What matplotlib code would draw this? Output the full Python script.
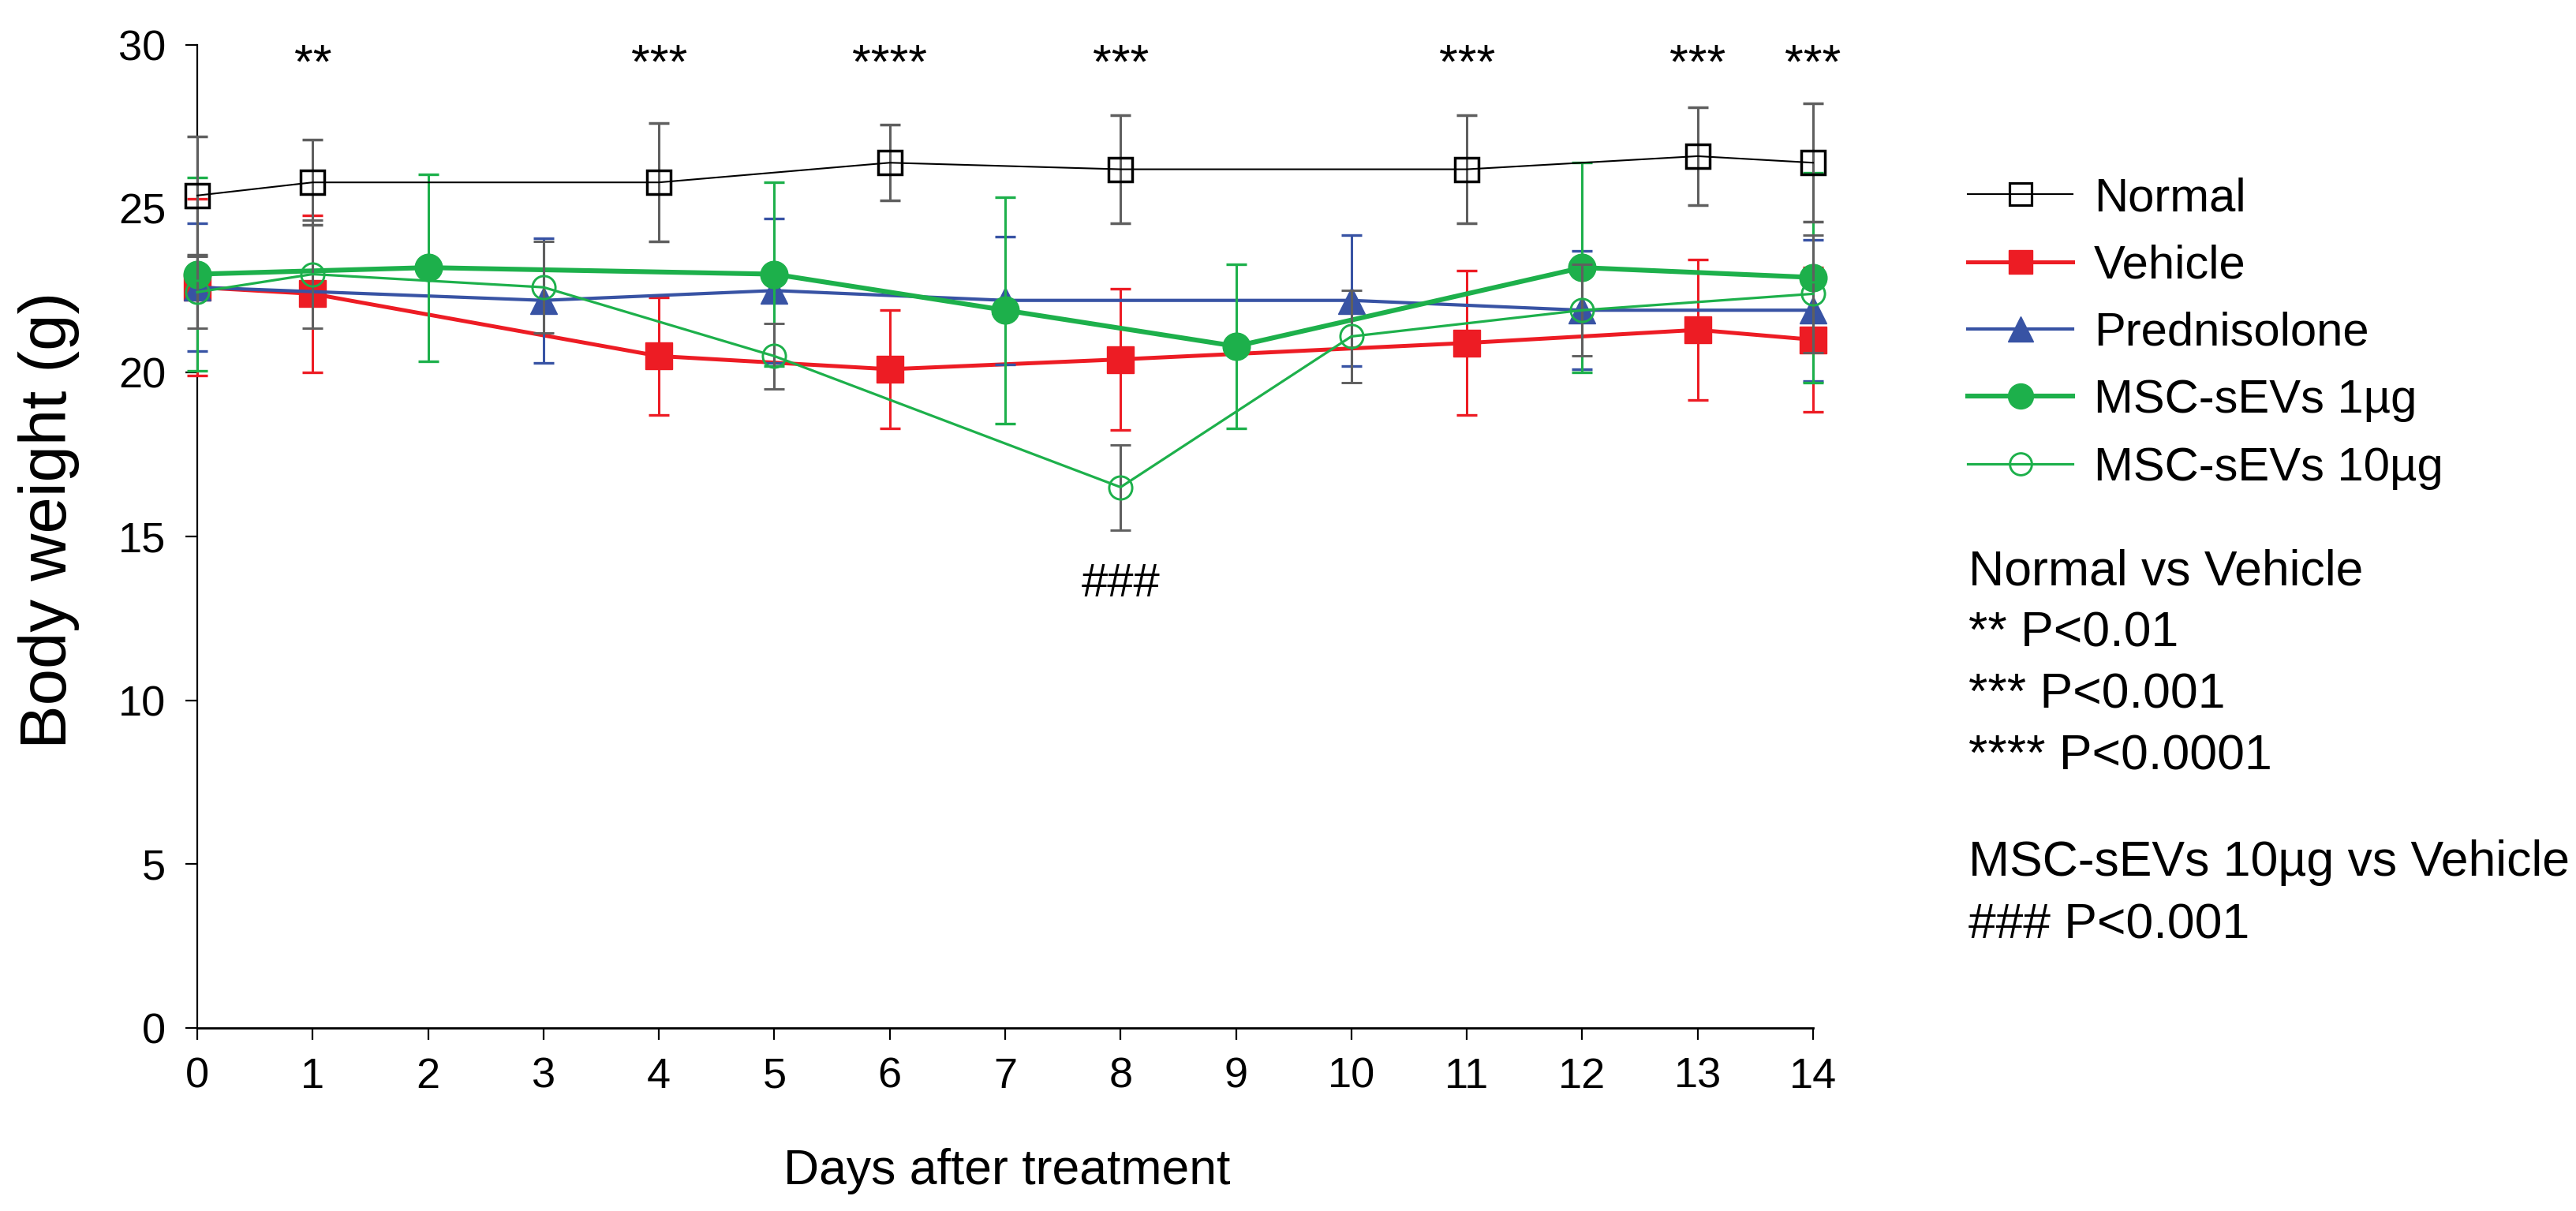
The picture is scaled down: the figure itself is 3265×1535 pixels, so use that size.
import matplotlib
matplotlib.use("Agg")
import matplotlib.pyplot as plt
from matplotlib.lines import Line2D

plt.rcParams['font.family'] = ['Liberation Sans', 'DejaVu Sans']

# body weight (g), mean and SD
days_normal = [0, 1, 4, 6, 8, 11, 13, 14]
normal_mean = [25.4, 25.8, 25.8, 26.4, 26.2, 26.2, 26.6, 26.4]
normal_sd = [1.8, 1.3, 1.8, 1.15, 1.65, 1.65, 1.5, 1.8]

days_vehicle = [0, 1, 4, 6, 8, 11, 13, 14]
vehicle_mean = [22.6, 22.4, 20.5, 20.1, 20.4, 20.9, 21.3, 21.0]
vehicle_sd = [2.7, 2.4, 1.8, 1.8, 2.15, 2.2, 2.15, 2.2]

days_pred = [0, 3, 5, 7, 10, 12, 14]
pred_mean = [22.6, 22.2, 22.5, 22.2, 22.2, 21.9, 21.9]
pred_sd = [1.95, 1.9, 2.2, 1.95, 2.0, 1.8, 2.15]

days_1ug = [0, 2, 5, 7, 9, 12, 14]
ug1_mean = [23.0, 23.2, 23.0, 21.9, 20.8, 23.2, 22.9]
ug1_sd = [2.95, 2.85, 2.8, 3.45, 2.5, 3.2, 3.2]

days_10ug = [0, 1, 3, 5, 8, 10, 12, 14]
ug10_mean = [22.45, 23.0, 22.6, 20.5, 16.5, 21.1, 21.9, 22.4]
ug10_sd = [1.1, 1.65, 1.4, 1.0, 1.3, 1.4, 1.4, 1.8]

star_days = [1, 4, 6, 8, 11, 13, 14]
star_text = ['**', '***', '****', '***', '***', '***', '***']
hash_day = 8

RED = '#ED1C24'
BLUE = '#3853A4'
GREEN = '#1DB04B'
GRAY = '#5F5F5F'

W, H = 3265, 1535
fig = plt.figure(figsize=(W / 100, H / 100), dpi=100)
ax = fig.add_axes([250 / W, 1 - 1303 / H, (2298 - 250) / W, (1303 - 56.7) / H])

eb = dict(capsize=9.7, capthick=2.4, elinewidth=2.2)

def draw(x, y, e, ecolor, z, **kw):
    c = ax.errorbar(x, y, yerr=e, ecolor=ecolor, zorder=z, **eb, **kw)
    for a in c.get_children():
        a.set_clip_on(False)
    return c

draw(days_vehicle, vehicle_mean, vehicle_sd, RED, 3,
     color=RED, lw=3.6, marker='s', ms=24, mec=RED, mfc=RED)
draw(days_pred, pred_mean, pred_sd, BLUE, 4,
     color=BLUE, lw=3.0, marker='^', ms=25, mec=BLUE, mfc=BLUE)
draw(days_1ug, ug1_mean, ug1_sd, GREEN, 5,
     color=GREEN, lw=4.4, marker='o', ms=25, mec=GREEN, mfc=GREEN)
draw(days_10ug, ug10_mean, ug10_sd, GRAY, 6,
     color=GREEN, lw=2.3, marker='o', ms=21, mec=GREEN, mfc='none', mew=2.1)
draw(days_normal, normal_mean, normal_sd, GRAY, 7,
     color='black', lw=1.5, marker='s', ms=22, mec='black', mfc='none', mew=2.5)

ax.set_xlim(0, 14)
ax.set_ylim(0, 30)
ax.set_xticks(range(15))
ax.set_yticks(range(0, 31, 5))
for s in ['top', 'right']:
    ax.spines[s].set_visible(False)
ax.spines['left'].set_linewidth(1.6)
ax.spines['bottom'].set_linewidth(2.0)
ax.tick_params(axis='both', labelsize=39, length=10.5, width=1.6, direction='out')
ax.tick_params(axis='x', pad=16)
ax.tick_params(axis='y', pad=18)

for d, t in zip(star_days, star_text):
    ax.text(d, 29.0, t, ha='center', va='baseline', fontsize=44)
ax.text(hash_day, 13.17, '###', ha='center', va='baseline', fontsize=43)

fig.text(62 / W, 1 - 659 / H, 'Body weight (g)', rotation=90,
         ha='center', va='center', fontsize=60)
fig.text(1276 / W, 1 - 1485 / H, 'Days after treatment',
         ha='center', va='center', fontsize=45)

handles = [
    Line2D([], [], color='black', lw=1.5, marker='s', ms=20, mfc='none', mec='black', mew=2.3),
    Line2D([], [], color=RED, lw=3.6, marker='s', ms=22, mfc=RED, mec=RED),
    Line2D([], [], color=BLUE, lw=3.0, marker='^', ms=23, mfc=BLUE, mec=BLUE),
    Line2D([], [], color=GREEN, lw=4.4, marker='o', ms=23, mfc=GREEN, mec=GREEN),
    Line2D([], [], color=GREEN, lw=2.3, marker='o', ms=20, mfc='none', mec=GREEN, mew=2.1),
]
labels = ['Normal', 'Vehicle', 'Prednisolone', 'MSC-sEVs 1µg', 'MSC-sEVs 10µg']
fig.legend(handles, labels, loc='upper left', bbox_to_anchor=(2494 / W, 1 - 224 / H),
           frameon=False, fontsize=43, handlelength=2.23, handletextpad=0.45,
           labelspacing=0.51, borderpad=0, borderaxespad=0)

notes = ['Normal vs Vehicle', '** P<0.01', '*** P<0.001', '**** P<0.0001',
         'MSC-sEVs 10µg vs Vehicle', '### P<0.001']
note_y = [741, 820, 898, 976, 1110, 1190]
for t, y in zip(notes, note_y):
    fig.text(2495 / W, 1 - y / H, t, ha='left', va='baseline', fontsize=45)

fig.savefig('out.png', dpi=100)
